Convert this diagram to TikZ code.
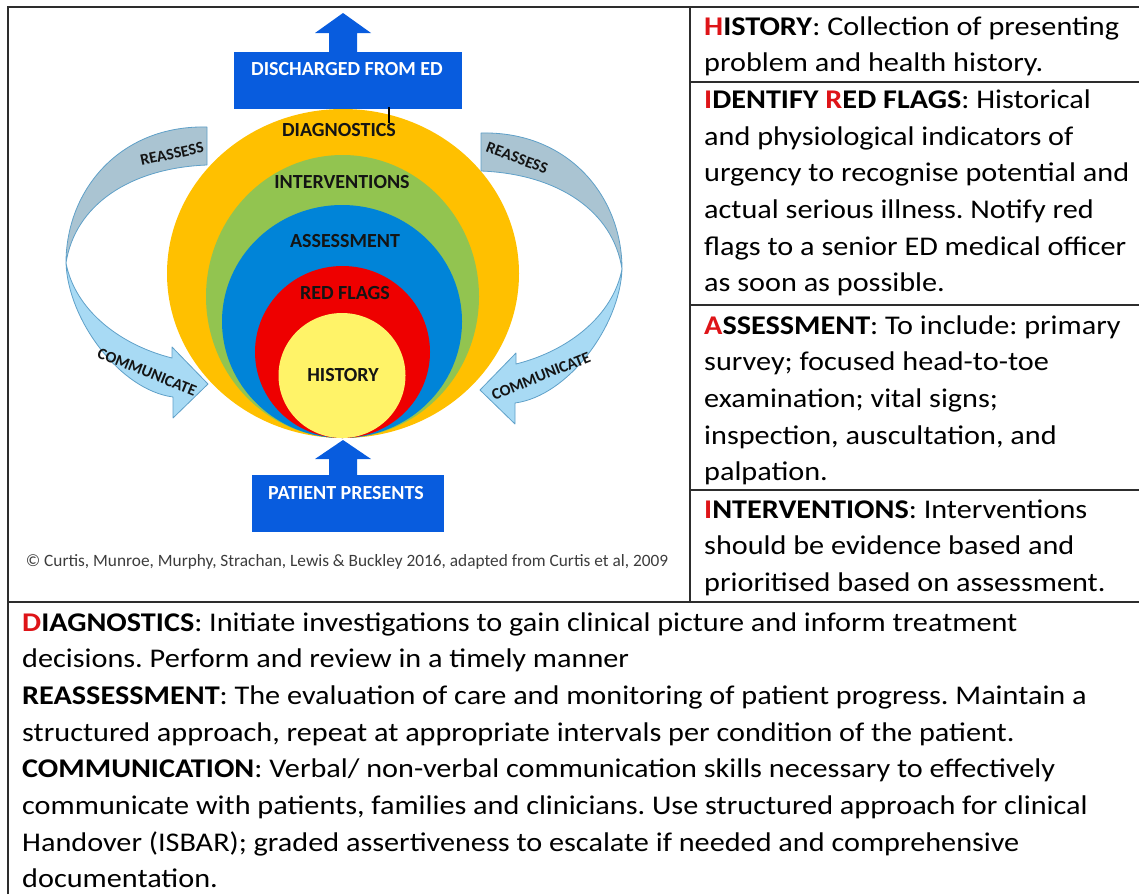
\documentclass[tikz,border=0pt]{standalone}
\usepackage{fontspec}
\setmainfont{Carlito}
\newfontfamily\descfont{Carlito}[FakeStretch=1.12]
\usetikzlibrary{shapes.geometric}
\frenchspacing
\definecolor{gold}{RGB}{255,192,0}
\definecolor{lgreen}{RGB}{146,196,80}
\definecolor{mblue}{RGB}{0,132,216}
\definecolor{ored}{RGB}{238,0,0}
\definecolor{lyellow}{RGB}{255,243,104}
\definecolor{boxblue}{RGB}{8,92,222}
\definecolor{bandtop}{RGB}{170,196,210}
\definecolor{bandbot}{RGB}{168,218,244}
\definecolor{bandline}{RGB}{95,160,200}
\definecolor{rulegray}{RGB}{45,45,45}
\definecolor{flagred}{RGB}{222,20,24}
\definecolor{inktext}{RGB}{20,20,20}
\definecolor{copygray}{RGB}{60,60,60}
\newcommand{\rf}[1]{\textcolor{flagred}{#1}}
\begin{document}
\begin{tikzpicture}[x=1pt,y=-1pt,
  layer/.style={ellipse, draw=none, inner sep=0pt, outer sep=0pt},
  ringlabel/.style={font=\fontsize{20}{24}\selectfont\bfseries, text=inktext, inner sep=0pt},
  bandlabel/.style={font=\fontsize{16}{19}\selectfont\bfseries, text=inktext, inner sep=0pt},
  boxlabel/.style={font=\fontsize{20}{24}\selectfont\bfseries, text=white, inner sep=0pt},
  desc/.style={anchor=base west, align=left, inner sep=0pt, text=black, font=\descfont\fontsize{27}{36.7}\selectfont\frenchspacing},
  rulel/.style={draw=rulegray, line width=1.8pt},
  band/.style={draw=bandline, line width=0.8pt, line join=round},
]
\useasboundingbox (0,0) rectangle (1139,894);

% concentric layers
\node[layer, fill=gold, minimum width=352pt, minimum height=329pt] (ldiag) at (343,273.5) {};
\node[layer, fill=lgreen, minimum width=273pt, minimum height=283pt] (lint) at (342.5,296.5) {};
\node[layer, fill=mblue, minimum width=240pt, minimum height=233pt] (lass) at (342,321.5) {};
\node[layer, fill=ored, minimum width=175pt, minimum height=172pt] (lred) at (342.5,352) {};
\node[layer, fill=lyellow, minimum width=127pt, minimum height=125pt] (lhist) at (342,375.5) {};

\node[ringlabel] (tdiag) at (339,130) {DIAGNOSTICS};
\node[ringlabel] (tint) at (342,182) {INTERVENTIONS};
\node[ringlabel] (tass) at (345,241) {ASSESSMENT};
\node[ringlabel] (tred) at (345,293) {RED FLAGS};
\node[ringlabel] (this) at (343,375) {HISTORY};

% discharged box and arrow
\node[fill=boxblue, minimum width=228pt, minimum height=57pt, inner sep=0pt] (dbox) at (348,80.5) {};
\fill[boxblue] (329,53) -- (329,33) -- (315,33) -- (343,13) -- (371,33) -- (357,33) -- (357,53) -- cycle;
\node[boxlabel] (dlab) at (347,69) {DISCHARGED FROM ED};
\draw[black, line width=1.2pt] (389,107) -- (389,123);

% patient presents box and arrow
\node[fill=boxblue, minimum width=192pt, minimum height=57pt, inner sep=0pt] (pbox) at (348,503.5) {};
\fill[boxblue] (329,476) -- (329,459) -- (315,459) -- (343,440) -- (371,459) -- (357,459) -- (357,476) -- cycle;
\node[boxlabel] (plab) at (346,493) {PATIENT PRESENTS};

% left curved arrow
\filldraw[band, fill=bandtop] (207,127) .. controls (120,125) and (66,190) .. (66,263) .. controls (75,205) and (130,168) .. (207,165) -- cycle;
\filldraw[band, fill=bandbot] (66,263) .. controls (68,320) and (120,390) .. (173,397) -- (173,418) -- (208,384) -- (172,347) -- (172,358) .. controls (120,345) and (75,310) .. (66,263) -- cycle;
% right curved arrow (mirror)
\begin{scope}[shift={(688,6)}, xscale=-1]
\filldraw[band, fill=bandtop] (207,127) .. controls (120,125) and (66,190) .. (66,263) .. controls (75,205) and (130,168) .. (207,165) -- cycle;
\filldraw[band, fill=bandbot] (66,263) .. controls (68,320) and (120,390) .. (173,397) -- (173,418) -- (208,384) -- (172,347) -- (172,358) .. controls (120,345) and (75,310) .. (66,263) -- cycle;
\end{scope}
\node[bandlabel, rotate=12] (lre) at (172,154) {REASSESS};
\node[bandlabel, rotate=-22] (lco) at (147,372) {COMMUNICATE};
\node[bandlabel, rotate=-20] (rre) at (517,158) {REASSESS};
\node[bandlabel, rotate=22] (rco) at (541,376) {COMMUNICATE};

% copyright
\node[font=\fontsize{17.3}{20}\selectfont, text=copygray, inner sep=0pt] (copy) at (347,562) {© Curtis, Munroe, Murphy, Strachan, Lewis \& Buckley 2016, adapted from Curtis et al, 2009};

% table rules
\draw[rulel] (8,894) -- (8,7) -- (1139,7);
\draw[rulel] (690,7) -- (690,602);
\draw[rulel] (690,82) -- (1139,82);
\draw[rulel] (690,305) -- (1139,305);
\draw[rulel] (690,490) -- (1139,490);
\draw[rulel] (8,602) -- (1139,602);

% texts (anchored at the baseline of their last line)
\node[desc] (thistory) at (704,71.7) {\textbf{\rf{H}ISTORY}: Collection of presenting\\problem and health history.};
\node[desc] (tflags) at (704,291.9) {\textbf{\rf{I}DENTIFY \rf{R}ED FLAGS}: Historical\\and physiological indicators of\\urgency to recognise potential and\\actual serious illness. Notify red\\flags to a senior ED medical officer\\as soon as possible.};
\node[desc] (tassess) at (704,480.8) {\textbf{\rf{A}SSESSMENT}: To include: primary\\survey; focused head-to-toe\\examination; vital signs;\\inspection, auscultation, and\\palpation.};
\node[desc] (tinterv) at (704,591.4) {\textbf{\rf{I}NTERVENTIONS}: Interventions\\should be evidence based and\\prioritised based on assessment.};
\node[desc] (tbottom) at (22,887.9) {\textbf{\rf{D}IAGNOSTICS}: Initiate investigations to gain clinical picture and inform treatment\\decisions. Perform and review in a timely manner\\\textbf{REASSESSMENT}: The evaluation of care and monitoring of patient progress. Maintain a\\structured approach, repeat at appropriate intervals per condition of the patient.\\\textbf{COMMUNICATION}: Verbal/ non-verbal communication skills necessary to effectively\\communicate with patients, families and clinicians. Use structured approach for clinical\\Handover (ISBAR); graded assertiveness to escalate if needed and comprehensive\\documentation.};
\end{tikzpicture}
\end{document}
